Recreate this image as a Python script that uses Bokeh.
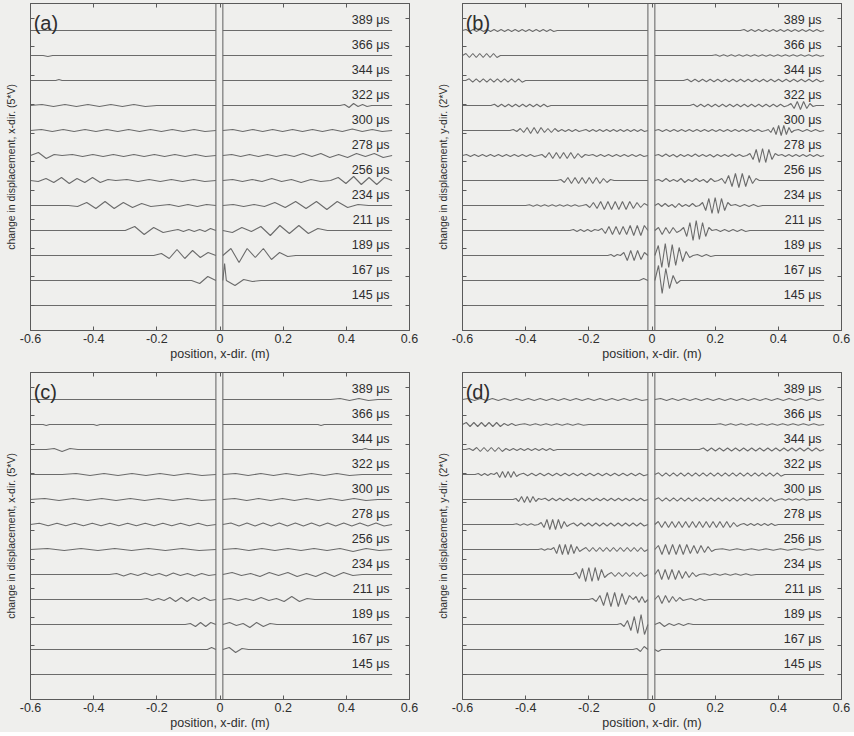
import math
from bokeh.plotting import figure
from bokeh.layouts import column, row
from bokeh.models import (ColumnDataSource, FixedTicker, LinearAxis, Range1d,
                          Span, CustomJSTickFormatter)
from bokeh.core.properties import value
from bokeh.embed import file_html
from bokeh.resources import INLINE

# ---------------- data ----------------
TIMES = [145, 167, 189, 211, 234, 256, 278, 300, 322, 344, 366, 389]   # µs, bottom to top
TRACE_STEP = 25            # vertical offset between successive traces (plot units)
X_TICKS = [-0.6, -0.4, -0.2, 0, 0.2, 0.4, 0.6]
X_TICK_LABELS = ["-0.6", "-0.4", "-0.2", "0", "0.2", "0.4", "0.6"]
X_START, X_GAP_L, X_GAP_R, X_END = -0.6, -0.013, 0.009, 0.545
PANEL_LABELS = ["(a)", "(b)", "(c)", "(d)"]
Y_LABELS = ["change in displacement, x-dir. (5*V)",
            "change in displacement, y-dir. (2*V)",
            "change in displacement, x-dir. (5*V)",
            "change in displacement, y-dir. (2*V)"]
X_LABEL = "position, x-dir. (m)"

# wave packets: (trace time, x from, x to, successive extrema)
PACKETS_A = [
    (167, -0.09, -0.013, [-3, 4]),
    (167, 0.009, 0.02, [17]),
    (167, 0.02, 0.13, [-5, 1, -1]),
    (189, -0.21, -0.013, [2, -3, 6, -3, 5, -2, 3]),
    (189, 0.009, 0.24, [7, -7, 7, -2, 7, -4, 3, -1]),
    (211, -0.30, -0.15, [4, -4, 3, -2]),
    (211, -0.15, -0.013, [1, -1, 1, -1, 1, -1, 2]),
    (211, 0.009, 0.34, [-2, 3, -1, 4, -5, 5, -3, 5, -3, 2]),
    (234, -0.48, -0.19, [-1, 3, -3, 4, -3, 3, -2, 2, -1]),
    (234, -0.19, -0.013, [1, -1, 1, -1, 1]),
    (234, 0.009, 0.47, [1, -1, 1, -1, 3, -2, 4, -3, 4, -4, 4, -2, 1]),
    (256, -0.6, -0.33, [-1, 2, -2, 3, -3, 2, -2, 3, -2, 1]),
    (256, -0.33, -0.013, [1, -1, 1, -1, 1, -1, 1, -1]),
    (256, 0.009, 0.35, [1, -1, 1, -1, 2, -1, 1, -2, 1, -1]),
    (256, 0.35, 0.545, [3, -3, 4, -4, 3, -4, 3]),
    (278, -0.6, -0.5, [3, -3, 1]),
    (278, -0.5, -0.013, [1, -1, 1, -1, 1, -1, 1, -1, 1, -1, 1, -1, 1, -1]),
    (278, 0.009, 0.545, [1, -1, 1, -1, 1, -1, 1, -1, 2, -1, 2, -2, 1, -2, 2, -1, 2, -2]),
    (300, -0.6, -0.013, [1, -1, 1, -1, 1, -1, 1, -1, 1, -1, 1, -1, 1, -1, 1, -1]),
    (300, 0.009, 0.545, [1, -1, 1, -1, 1, -1, 1, -1, 1, -1, 1, -1, 1.5, -1, 1, -1]),
    (322, -0.6, -0.2, [1, -1, 1, -1, 1, -1, 1, -1, 1, -1]),
    (322, 0.38, 0.48, [1, -2, 2, -1, 1, -1]),
    (344, -0.52, -0.50, [1]),
    (366, -0.56, -0.53, [-1]),
]

PACKETS_B = [
    (167, -0.04, -0.013, [2]),
    (167, 0.009, 0.09, [15, -13, 12, -8, 5, -3]),
    (189, -0.14, -0.10, [1, -1, 1]),
    (189, -0.10, -0.013, [3, -5, 5, -5, 5, -4, 3]),
    (189, 0.009, 0.13, [10, -12, 12, -12, 11, -10, 8, -6, 4, -2]),
    (189, 0.13, 0.20, [1, -1, 1, -1]),
    (211, -0.26, -0.17, [1, -1, 1, -1, 1, -1, 1]),
    (211, -0.17, -0.013, [2, -3, 4, -4, 4, -4, 4, -4, 5, -5, 5, -5, 5]),
    (211, 0.009, 0.09, [3, -4, 3, -3, 3, -2]),
    (211, 0.09, 0.19, [3, -6, 8, -10, 10, -9, 8, -6, 3]),
    (211, 0.19, 0.31, [1, -1, 1, -1, 1, -1, 1, -1]),
    (234, -0.40, -0.22, [0.7, -0.7, 0.7, -0.7, 0.7, -0.7, 0.7, -0.7, 0.7, -0.7, 0.7, -0.7, 0.7, -0.7]),
    (234, -0.22, -0.013, [1, -2, 3, -3, 4, -4, 4, -4, 4, -4, 4, -4, 4, -3, 3, -2, 2]),
    (234, 0.009, 0.15, [2, -1, 2, -1, 1, -2, 2, -1, 1, -1, 2, -1]),
    (234, 0.15, 0.25, [3, -5, 7, -8, 8, -8, 7, -5, 3]),
    (234, 0.25, 0.35, [1, -1, 1, -1, 1, -1]),
    (256, -0.30, -0.12, [1, -2, 3, -3, 3, -3, 3, -3, 3, -3, 3, -3, 2, -2, 1]),
    (256, 0.009, 0.21, [1, -1, 2, -1, 1, -1, 2, -2, 1, -1, 2, -1, 1, -2, 2, -1]),
    (256, 0.21, 0.34, [2, -3, 5, -6, 7, -7, 7, -6, 5, -3, 2]),
    (278, -0.6, -0.36, [1, -1, 1, -1, 1, -1, 1, -1, 1, -1, 1, -1, 1, -1, 1, -1, 1, -1]),
    (278, -0.36, -0.20, [1, -2, 3, -3, 3, -3, 3, -3, 3, -3, 2, -2, 1]),
    (278, -0.20, -0.013, [1, -1, 1, -1, 1, -1, 1, -1, 1, -1, 1, -1, 1, -1]),
    (278, 0.009, 0.30, [1, -1, 1.5, -1, 1, -1.5, 1, -1, 1, -1, 1.5, -1, 1, -1, 1, -1.5, 1, -1, 1, -1, 1.5, -1, 1, -1]),
    (278, 0.30, 0.40, [2, -4, 6, -7, 7, -7, 6, -4, 2]),
    (278, 0.40, 0.545, [1, -1, 1, -1, 1, -1, 1, -1, 1, -1, 1, -1]),
    (300, -0.45, -0.22, [1, -1, 2, -2, 3, -3, 3, -3, 3, -2, 2, -2, 2, -1, 1, -1, 1, -1, 1, -1]),
    (300, -0.22, -0.013, [1, -1, 1, -1, 1, -1, 1, -1, 1, -1, 1, -1, 1, -1, 1, -1, 1, -1]),
    (300, 0.009, 0.36, [1, -1, 1, -1, 1, -1, 1, -1, 1, -1, 1, -1, 1, -1, 1, -1, 1, -1, 1, -1, 1, -1, 1, -1, 1, -1, 1, -1]),
    (300, 0.36, 0.45, [1, -2, 3, -4, 5, -5, 5, -4, 3, -2]),
    (300, 0.45, 0.545, [1, -1, 1, -1, 1, -1]),
    (322, -0.51, -0.32, [1.3, -1.3, 1.3, -1.3, 1.3, -1.3, 1.3, -1.3, 1.3, -1.3, 1.3, -1.3, 1.3, -1.3, 1.3, -1.3]),
    (322, 0.12, 0.43, [1.2, -1.2, 1.2, -1.2, 1.2, -1.2, 1.2, -1.2, 1.2, -1.2, 1.2, -1.2, 1.2, -1.2, 1.2, -1.2, 1.2, -1.2, 1.2, -1.2, 1.2, -1.2, 1.2, -1.2, 1.2, -1.2]),
    (322, 0.43, 0.52, [2, -3, 4, -4, 4, -3, 2, -1]),
    (344, -0.59, -0.40, [1.7, -1.7, 1.7, -1.7, 1.7, -1.7, 1.7, -1.7, 1.7, -1.7, 1.7, -1.7, 1.7, -1.7, 1.7, -1.7]),
    (344, 0.10, 0.545, [1.2, -1.2, 1.2, -1.2, 1.2, -1.2, 1.2, -1.2, 1.2, -1.2, 1.2, -1.2, 1.2, -1.2, 1.2, -1.2, 1.2, -1.2,
                        1.2, -1.2, 1.2, -1.2, 1.2, -1.2, 1.2, -1.2, 1.2, -1.2, 1.2, -1.2, 1.2, -1.2, 1.2, -1.2, 1.2, -1.2]),
    (366, -0.60, -0.48, [2, -2, 2, -2, 2, -2, 2, -2, 2, -2]),
    (366, 0.19, 0.545, [0.7, -0.7, 0.7, -0.7, 0.7, -0.7, 0.7, -0.7, 0.7, -0.7, 0.7, -0.7, 0.7, -0.7,
                        0.7, -0.7, 0.7, -0.7, 0.7, -0.7, 0.7, -0.7, 0.7, -0.7, 0.7, -0.7, 0.7, -0.7]),
    (389, -0.60, -0.30, [1, -1, 1, -1, 1, -1, 1, -1, 1, -1, 1, -1, 1, -1, 1, -1, 1, -1, 1, -1, 1, -1, 1, -1, 1, -1]),
    (389, 0.28, 0.545, [1, -1, 1, -1, 1, -1, 1, -1, 1, -1, 1, -1, 1, -1, 1, -1, 1, -1, 1, -1, 1, -1]),
]

PACKETS_C = [
    (167, -0.04, -0.013, [2]),
    (167, 0.009, 0.09, [2, -3, 1]),
    (189, -0.11, -0.013, [1, -2, 2, -2, 2]),
    (189, 0.009, 0.18, [2, -1, 1, -3, 2, -2, 1]),
    (211, -0.25, -0.013, [1, -1, 1, -1, 2, -2, 2, -2, 2, -1, 2, -1]),
    (211, 0.009, 0.30, [1, -1, 1, -1, 2, -1, 1, -2, 3, -2, 1]),
    (234, -0.35, -0.013, [1, -1.5, 1, -1, 1.5, -1, 1, -1.5, 1.5, -1, 1, -1.5, 1, -1]),
    (234, 0.009, 0.45, [2, -1, 1, -2, 2, -1, 2, -2, 1, -2, 2, -2, 2, -1]),
    (256, -0.6, -0.013, [1, -1, 1, -1, 1, -1, 1, -1, 1, -1]),
    (256, 0.009, 0.545, [1, -1, 1, -1, 1, -1, 1, -1, 1, -2, 1, -1]),
    (278, -0.6, -0.013, [1.2, -1.2, 1.2, -1.2, 1.2, -1.2, 1.2, -1.2, 1.2, -1.2, 1.2, -1.2, 1.2, -1.2, 1.2, -1.2, 1.2, -1.2, 1.2, -1.2]),
    (278, 0.009, 0.545, [1.5, -1.5, 1.5, -1.5, 1.5, -1.5, 1.5, -1.5, 1.5, -1.5, 1.5, -1.5, 1.5, -1.5, 1.5, -1.5, 1.5, -1.5, 1.5, -1.5]),
    (300, -0.6, -0.013, [1, -1, 1, -1, 1, -1, 1, -1, 1, -1, 1, -1]),
    (300, 0.009, 0.50, [1, -1, 1, -1, 1, -1, 1, -1, 1, -1, 1, -1]),
    (322, -0.50, -0.013, [1, -1, 1, -1, 1, -1, 1, -1, 1, -1]),
    (322, 0.009, 0.45, [1, -1, 1, -1, 1, -1, 1, -1, 1, -1]),
    (344, -0.55, -0.45, [1, -2, 1]),
    (344, 0.45, 0.47, [1]),
    (366, -0.56, -0.54, [-1]),
    (366, -0.40, -0.38, [-1]),
    (366, 0.31, 0.33, [-1]),
    (389, 0.35, 0.50, [1, -1, 1, -1]),
]

PACKETS_D = [
    (167, -0.06, -0.013, [1, -2, 3]),
    (167, 0.009, 0.03, [-2]),
    (189, -0.11, -0.013, [1, -2, 4, -6, 8, -9, 10, -10]),
    (189, 0.009, 0.13, [2, -2, 1, -1, 1, -1, 1]),
    (211, -0.20, -0.06, [1, -2, 4, -6, 7, -7, 7, -7, 6, -5, 4]),
    (211, -0.06, -0.013, [3, -3, 3, -3]),
    (211, 0.009, 0.11, [4, -4, 4, -3, 3, -2, 2, -1]),
    (211, 0.11, 0.18, [1, -1, 1, -1]),
    (234, -0.25, -0.14, [2, -4, 6, -7, 7, -7, 7, -6, 5, -3]),
    (234, -0.14, -0.013, [2, -2, 2, -2, 2, -2, 2, -2, 2, -2]),
    (234, 0.009, 0.15, [5, -5, 5, -5, 5, -5, 4, -4, 3, -3, 2, -2]),
    (234, 0.15, 0.33, [0.8, -0.8, 0.8, -0.8, 0.8, -0.8, 0.8, -0.8, 0.8, -0.8]),
    (256, -0.36, -0.32, [0.8, -0.8, 0.8]),
    (256, -0.32, -0.22, [2, -4, 5, -5, 5, -5, 5, -4, 3, -2]),
    (256, -0.22, -0.013, [2, -2, 2, -2, 2, -2, 2, -2, 2, -2, 2, -2, 2, -2, 2, -2, 2, -2]),
    (256, 0.009, 0.20, [4, -5, 5, -5, 5, -5, 5, -5, 5, -4, 4, -4, 4, -3, 3, -2]),
    (256, 0.20, 0.545, [0.7, -0.7, 0.7, -0.7, 0.7, -0.7, 0.7, -0.7, 0.7, -0.7, 0.7, -0.7, 0.7, -0.7]),
    (278, -0.44, -0.36, [0.8, -0.8, 0.8, -0.8, 0.8, -0.8]),
    (278, -0.36, -0.26, [2, -3, 5, -5, 5, -5, 5, -4, 3, -2]),
    (278, -0.26, -0.013, [1.5, -1.5, 1.5, -1.5, 1.5, -1.5, 1.5, -1.5, 1.5, -1.5, 1.5, -1.5, 1.5, -1.5, 1.5, -1.5, 1.5, -1.5, 1.5, -1.5]),
    (278, 0.009, 0.28, [3, -3, 3, -3, 3, -3, 3, -3, 3, -3, 3, -3, 3, -3, 3, -3, 3, -3, 3, -3, 3, -3, 2, -2]),
    (278, 0.28, 0.40, [1, -1, 1, -1, 1, -1, 1, -1, 1, -1]),
    (300, -0.44, -0.35, [1, -2, 3, -3, 3, -3, 3, -2, 1]),
    (300, -0.35, -0.013, [1.3, -1.3, 1.3, -1.3, 1.3, -1.3, 1.3, -1.3, 1.3, -1.3, 1.3, -1.3, 1.3, -1.3,
                          1.3, -1.3, 1.3, -1.3, 1.3, -1.3, 1.3, -1.3, 1.3, -1.3, 1.3, -1.3, 1.3, -1.3]),
    (300, 0.009, 0.40, [1.7, -1.7, 1.7, -1.7, 1.7, -1.7, 1.7, -1.7, 1.7, -1.7, 1.7, -1.7, 1.7, -1.7, 1.7, -1.7,
                        1.7, -1.7, 1.7, -1.7, 1.7, -1.7, 1.7, -1.7, 1.7, -1.7, 1.7, -1.7, 1.7, -1.7, 1.7, -1.7]),
    (300, 0.40, 0.50, [0.8, -0.8, 0.8, -0.8, 0.8, -0.8, 0.8, -0.8]),
    (322, -0.56, -0.50, [1, -1, 1, -1, 1]),
    (322, -0.50, -0.42, [2, -3, 3, -3, 3, -3, 3, -2]),
    (322, -0.42, -0.013, [1.2, -1.2, 1.2, -1.2, 1.2, -1.2, 1.2, -1.2, 1.2, -1.2, 1.2, -1.2, 1.2, -1.2,
                          1.2, -1.2, 1.2, -1.2, 1.2, -1.2, 1.2, -1.2, 1.2, -1.2, 1.2, -1.2, 1.2, -1.2, 1.2, -1.2]),
    (322, 0.009, 0.42, [1.7, -1.7, 1.7, -1.7, 1.7, -1.7, 1.7, -1.7, 1.7, -1.7, 1.7, -1.7, 1.7, -1.7, 1.7, -1.7, 1.7,
                        -1.7, 1.7, -1.7, 1.7, -1.7, 1.7, -1.7, 1.7, -1.7, 1.7, -1.7, 1.7, -1.7, 1.7, -1.7, 1.7, -1.7]),
    (344, -0.59, -0.30, [1, -1, 2, -2, 2, -2, 2, -2, 2, -2, 1, -1, 1, -1, 1, -1, 1, -1, 1, -1, 1, -1, 1, -1]),
    (344, 0.15, 0.545, [1.5, -1.5, 1.5, -1.5, 1.5, -1.5, 1.5, -1.5, 1.5, -1.5, 1.5, -1.5, 1.5, -1.5, 1.5,
                        -1.5, 1.5, -1.5, 1.5, -1.5, 1.5, -1.5, 1.5, -1.5, 1.5, -1.5, 1.5, -1.5, 1.5, -1.5]),
    (366, -0.60, -0.42, [2, -2, 2, -2, 2, -2, 2, -2, 2, -2, 1, -1, 1, -1]),
    (366, -0.42, -0.20, [0.7, -0.7, 0.7, -0.7, 0.7, -0.7, 0.7, -0.7, 0.7, -0.7, 0.7, -0.7]),
    (366, 0.20, 0.545, [0.8, -0.8, 0.8, -0.8, 0.8, -0.8, 0.8, -0.8, 0.8, -0.8, 0.8, -0.8, 0.8, -0.8, 0.8, -0.8, 0.8, -0.8, 0.8, -0.8]),
    (389, -0.60, -0.013, [1, -1, 1, -1, 1, -1, 1, -1, 1, -1, 1, -1, 1, -1, 1, -1, 1, -1, 1, -1,
                          1, -1, 1, -1, 1, -1, 1, -1, 1, -1]),
    (389, 0.009, 0.545, [1, -1, 1, -1, 1, -1, 1, -1, 1, -1, 1, -1, 1, -1, 1, -1, 1, -1, 1, -1,
                         1, -1, 1, -1, 1, -1, 1, -1]),
]

PANEL_PACKETS = [PACKETS_A, PACKETS_B, PACKETS_C, PACKETS_D]

# ---------------- styling ----------------
BG = "#efefed"
TRACE_COLOR = "#6b6b6b"
FRAME_COLOR = "#5a5a5a"
TEXT_COLOR = "#2e2e2e"
FONT = "Liberation Sans"
Y_TICK_STEP = 28.75


def side_line(base, packets, x_lo, x_hi):
    xs, ys = [x_lo], [base]
    for (_, x0, x1, amps) in sorted(packets, key=lambda p: p[1]):
        if x0 < x_lo - 1e-9 or x1 > x_hi + 1e-9:
            continue
        xs.append(x0)
        ys.append(base)
        n = len(amps)
        for i, a in enumerate(amps):
            xs.append(x0 + (i + 1) * (x1 - x0) / (n + 1))
            ys.append(base + a)
        xs.append(x1)
        ys.append(base)
    xs.append(x_hi)
    ys.append(base)
    return xs, ys


def make_panel(k, border_left, border_right, border_top):
    p = figure(frame_width=379, frame_height=327,
               x_range=Range1d(-0.6, 0.6), y_range=Range1d(-25, 302),
               output_backend="svg", toolbar_location=None,
               min_border_left=border_left, min_border_right=border_right,
               min_border_top=border_top, min_border_bottom=10)
    p.background_fill_color = BG
    p.border_fill_color = BG
    p.outline_line_color = FRAME_COLOR
    p.grid.visible = False

    packets = PANEL_PACKETS[k]
    all_x, all_y = [], []
    for i, t in enumerate(TIMES):
        base = i * TRACE_STEP
        mine = [q for q in packets if q[0] == t]
        for lo, hi in ((X_START, X_GAP_L), (X_GAP_R, X_END)):
            xs, ys = side_line(base, mine, lo, hi)
            all_x.append(xs)
            all_y.append(ys)
    p.multi_line(all_x, all_y, line_color=TRACE_COLOR, line_width=1.1)

    for loc in (X_GAP_L, X_GAP_R):
        p.add_layout(Span(location=loc, dimension="height",
                          line_color=TRACE_COLOR, line_width=1.1))

    src = ColumnDataSource(dict(
        x=[0.537] * len(TIMES),
        y=[i * TRACE_STEP + 4 for i in range(len(TIMES))],
        txt=[f"{t} \u03bcs" for t in TIMES]))
    p.text("x", "y", text="txt", source=src, text_align="right",
           text_baseline="bottom", text_font=value(FONT),
           text_font_size="12.5px", text_color=TEXT_COLOR)

    p.text(x=[-0.59], y=[294], text=[PANEL_LABELS[k]], text_align="left",
           text_baseline="top", text_font=value(FONT), text_font_size="20px",
           text_color=TEXT_COLOR)

    xt = FixedTicker(ticks=X_TICKS)
    overrides = {tv: tl for tv, tl in zip(X_TICKS, X_TICK_LABELS)}
    yt = FixedTicker(ticks=[i * Y_TICK_STEP for i in range(11)])
    blank = CustomJSTickFormatter(code="return ''")

    xa = p.xaxis[0]
    xa.ticker = xt
    xa.major_label_overrides = overrides
    xa.axis_label = X_LABEL
    ya = p.yaxis[0]
    ya.ticker = yt
    ya.formatter = blank
    ya.axis_label = Y_LABELS[k]

    top = LinearAxis(ticker=xt, formatter=blank)
    right = LinearAxis(ticker=yt, formatter=blank)
    p.add_layout(top, "above")
    p.add_layout(right, "right")

    for ax in (xa, ya, top, right):
        ax.major_tick_in = 4
        ax.major_tick_out = 0
        ax.minor_tick_line_color = None
        ax.axis_line_color = FRAME_COLOR
        ax.major_tick_line_color = FRAME_COLOR
        ax.major_label_text_font = FONT
        ax.major_label_text_font_size = "12.5px"
        ax.major_label_text_color = TEXT_COLOR
        ax.axis_label_text_font = FONT
        ax.axis_label_text_font_style = "normal"
        ax.axis_label_text_color = TEXT_COLOR
    xa.axis_label_text_font_size = "12.5px"
    ya.axis_label_text_font_size = "10.5px"
    xa.major_label_standoff = 3
    xa.axis_label_standoff = 1
    ya.major_label_standoff = 0
    ya.axis_label_standoff = 14
    top.major_label_standoff = 0
    right.major_label_standoff = 0
    return p


pa = make_panel(0, 30, 20, 3)
pb = make_panel(1, 33, 13, 3)
pc = make_panel(2, 30, 20, 9)
pd = make_panel(3, 33, 13, 9)

layout = column(row(pa, pb, spacing=0), row(pc, pd, spacing=0), spacing=0,
                styles={"background-color": BG})

with open("out.html", "w") as f:
    f.write(file_html(layout, INLINE))
